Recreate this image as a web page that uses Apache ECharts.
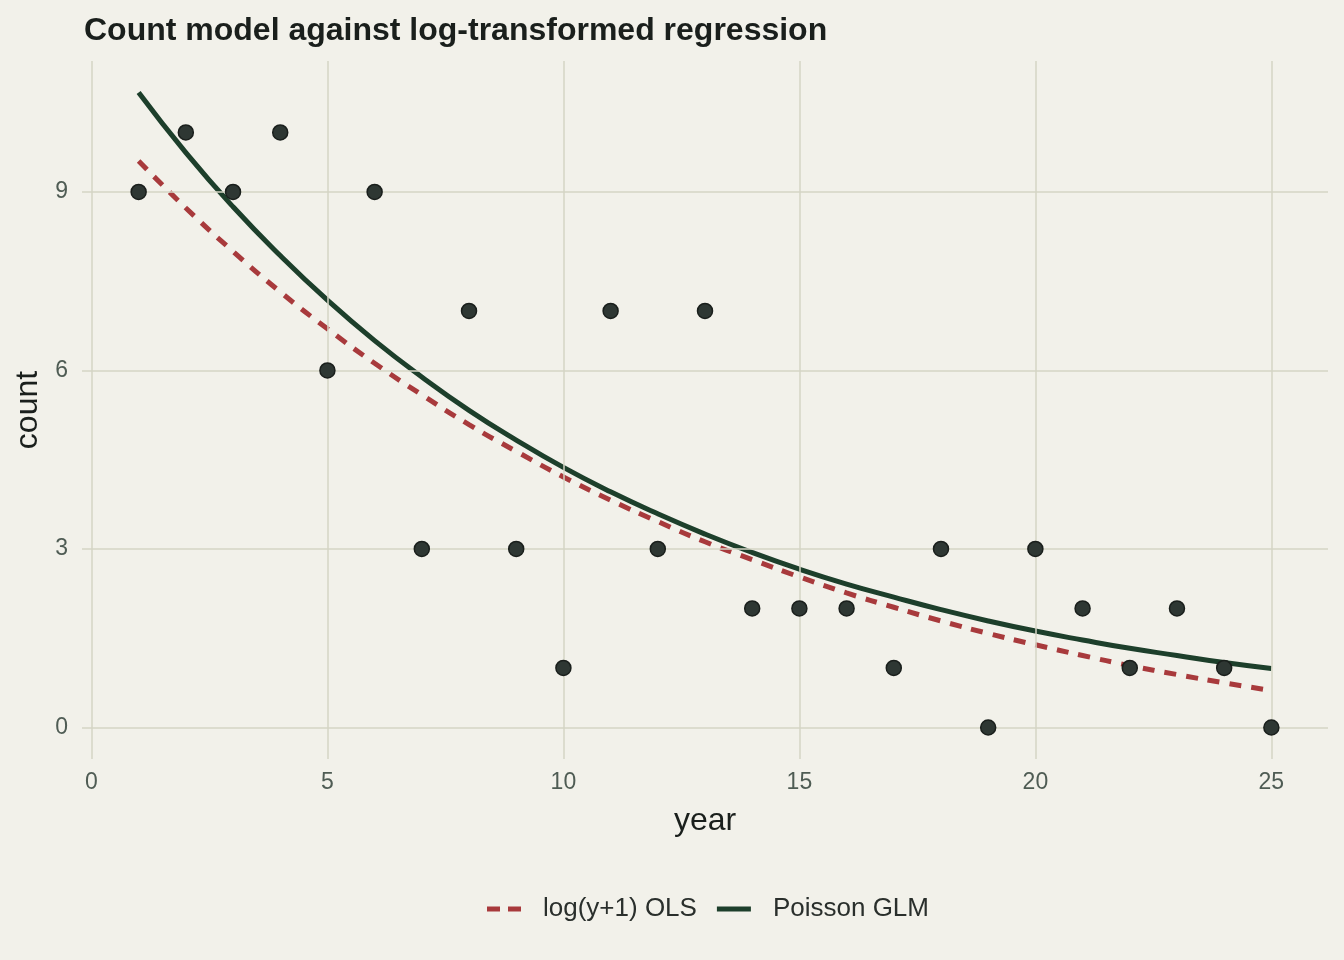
<!DOCTYPE html>
<html>
<head>
<meta charset="utf-8">
<style>
    html, body {margin: 0; padding: 0; background: #F2F1EA;}
    #chart {width: 1344px; height: 960px;}
</style>
<script src="https://cdn.jsdelivr.net/npm/echarts@6/dist/echarts.min.js"></script>
</head>
<body>
<div id="chart"></div>
<script>
/*observed counts*/
var years = [1, 2, 3, 4, 5, 6, 7, 8, 9, 10, 11, 12, 13, 14, 15, 16, 17, 18, 19, 20, 21, 22, 23, 24, 25];
var counts = [9, 10, 9, 10, 6, 9, 3, 7, 3, 1, 7, 3, 7, 2, 2, 2, 1, 3, 0, 3, 2, 1, 2, 1, 0];
/*fitted curves*/
var olsFit = [9.52, 8.73, 8.00, 7.32, 6.70, 6.12, 5.59, 5.09, 4.64, 4.21, 3.82, 3.46, 3.12,
    2.82, 2.53, 2.26, 2.02, 1.79, 1.58, 1.39, 1.21, 1.04, 0.89, 0.75, 0.62];
var poissonFit = [10.67, 9.66, 8.75, 7.93, 7.18, 6.50, 5.89, 5.33, 4.83, 4.37, 3.96, 3.59, 3.25,
    2.94, 2.66, 2.41, 2.19, 1.98, 1.79, 1.62, 1.47, 1.33, 1.21, 1.09, 0.99];
var xTicks = [0, 5, 10, 15, 20, 25];
var yTicks = [0, 3, 6, 9];

var pairs = function (ys) {
    return years.map(function (x, i) {
        return [x, ys[i]];
    });
};

var box = document.getElementById('chart');
var myChart = echarts.init(box);
var font = 'Liberation Sans, Arial, sans-serif';
var gridColor = '#D5D4C4';
var tickColor = '#4F5C54';
var red = '#A83A3C';
var green = '#1D3F2B';

var options = {
    backgroundColor: '#F2F1EA',
    textStyle: {fontFamily: font},
    title: {
        text: 'Count model against log-transformed regression',
        left: 79,
        top: 10,
        textStyle: {fontSize: 32, fontWeight: 'bold', color: '#1A1F1C', fontFamily: font}
    },
    legend: {
        left: 487,
        top: 896,
        padding: 0,
        itemWidth: 34,
        itemHeight: 5,
        itemGap: 20,
        textStyle: {fontSize: 26, color: '#2A2F2C', fontFamily: font, padding: [0, 0, 0, 17]},
        data: [
            {name: 'log(y+1) OLS', icon: 'path://M0,0h13v5h-13z M21,0h13v5h-13z', itemStyle: {color: red}},
            {name: 'Poisson GLM', icon: 'path://M0,0h34v5h-34z', itemStyle: {color: green}}
        ]
    },
    grid: {left: 82, right: 16, top: 61, bottom: 201, outerBoundsMode: 'none'},
    xAxis: {
        type: 'value',
        min: -0.2,
        max: 26.2,
        name: 'year',
        nameLocation: 'middle',
        nameGap: 46,
        nameTextStyle: {fontSize: 32, color: '#1A1F1C'},
        axisLine: {show: false},
        axisTick: {show: false, customValues: xTicks},
        axisLabel: {customValues: xTicks, fontSize: 23, color: tickColor, margin: 12},
        splitLine: {show: false}
    },
    yAxis: {
        type: 'value',
        min: -0.53,
        max: 11.2,
        name: 'count',
        nameLocation: 'middle',
        nameGap: 38,
        nameTextStyle: {fontSize: 32, color: '#1A1F1C'},
        axisLine: {show: false},
        axisTick: {show: false, customValues: yTicks},
        axisLabel: {customValues: yTicks, fontSize: 23, color: tickColor, margin: 14},
        splitLine: {show: false}
    },
    series: [
        {
            /*gridlines at the tick values*/
            type: 'line',
            data: [],
            silent: true,
            markLine: {
                silent: true,
                symbol: 'none',
                label: {show: false},
                lineStyle: {color: gridColor, type: 'solid', width: 1.5},
                data: xTicks.map(function (v) {
                    return {xAxis: v};
                }).concat(yTicks.map(function (v) {
                    return {yAxis: v};
                }))
            },
            z: 0
        },
        {
            name: 'log(y+1) OLS',
            type: 'line',
            smooth: true,
            symbol: 'none',
            color: red,
            lineStyle: {width: 5, type: [12, 10], color: red},
            data: pairs(olsFit),
            z: 3
        },
        {
            name: 'Poisson GLM',
            type: 'line',
            smooth: true,
            symbol: 'none',
            color: green,
            lineStyle: {width: 5, color: green},
            data: pairs(poissonFit),
            z: 4
        },
        {
            name: 'observed',
            type: 'scatter',
            symbolSize: 15,
            itemStyle: {color: '#2E3733', borderColor: '#1A1F1C', borderWidth: 1.5, opacity: 1},
            data: pairs(counts),
            z: 5
        }
    ]
};
myChart.setOption(options);
</script>
</body>
</html>
